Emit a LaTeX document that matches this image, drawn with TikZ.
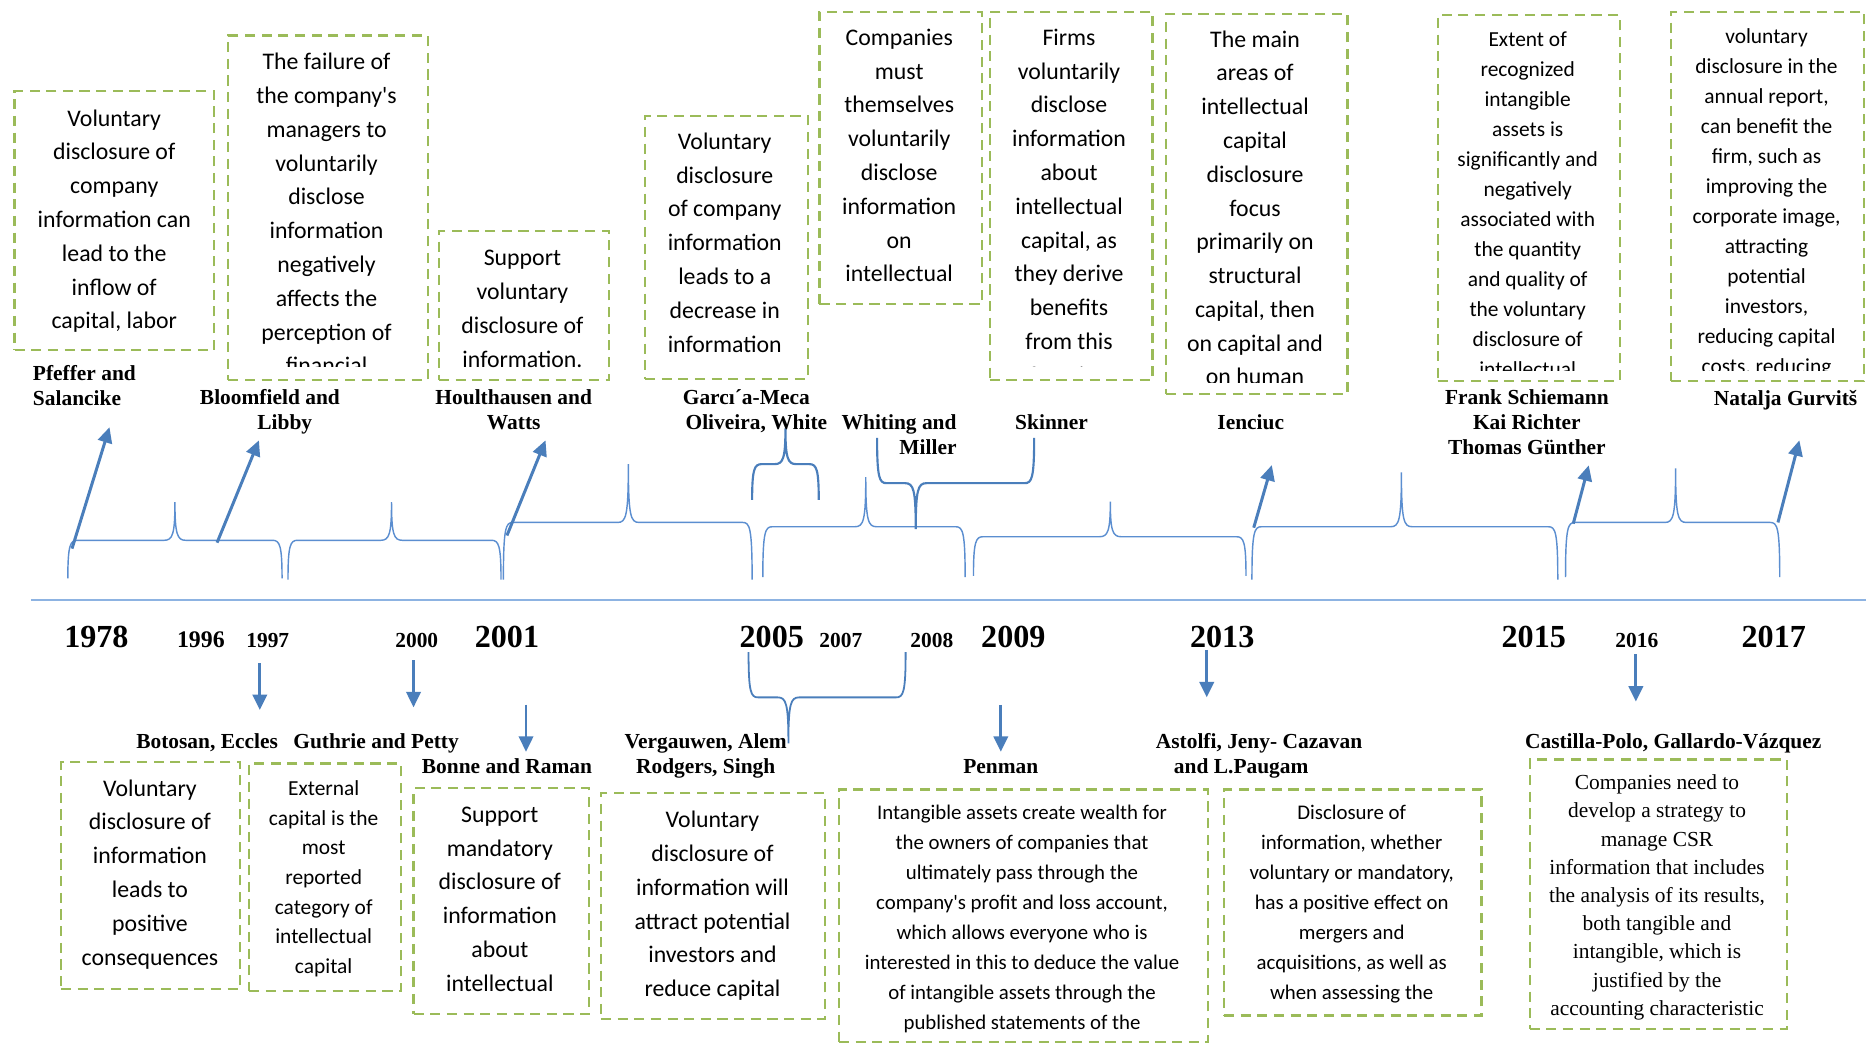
\documentclass[tikz,border=0pt]{standalone}
\usepackage{fontspec}
\setmainfont{Liberation Serif}
\newfontfamily\calfont{Carlito}
\usetikzlibrary{arrows.meta}

\definecolor{notegreen}{HTML}{9BBB59}
\definecolor{pointblue}{HTML}{4A7EBB}
\definecolor{braceblue}{HTML}{5B8ED0}
\definecolor{axisblue}{HTML}{8DB3E2}

% dashed note frame spanning (x1,y1)-(x2,y2)
\newcommand\notebox[5]{\node[notebox, minimum width={#4-#2}, minimum height={#5-#3}, anchor=north west] (#1) at (#2,#3) {};}
% curly brace: [style] x1, x2, cusp x, level y, end y, tip y, sense (1: ends below)
\newcommand\tlbrace[8][]{%
  \draw[tlbr,#1] (#2,#6) .. controls (#2,{#5+4*#8}) and ({#2+2},#5) .. ({#2+8},#5)
    -- ({#4-9},#5) .. controls ({#4-2},#5) and (#4,{#5-5*#8}) .. (#4,#7)
    .. controls (#4,{#5-5*#8}) and ({#4+2},#5) .. ({#4+9},#5)
    -- ({#3-8},#5) .. controls ({#3-2},#5) and (#3,{#5+4*#8}) .. (#3,#6);}

\begin{document}
\begin{tikzpicture}[x=1pt,y=-1pt,
  notebox/.style={draw=notegreen, line width=1.8pt, dash pattern=on 8.5pt off 5.5pt, inner sep=0pt},
  toptext/.style={font=\calfont\fontsize{20}{28.4}\selectfont, align=center, anchor=base, inner sep=0pt},
  smalltext/.style={font=\calfont\fontsize{18}{25.2}\selectfont, align=center, anchor=base, inner sep=0pt},
  guthtext/.style={font=\calfont\fontsize{18}{24.9}\selectfont, align=center, anchor=base, inner sep=0pt},
  widetext/.style={font=\calfont\fontsize{17.5}{25.1}\selectfont, align=center, anchor=base, inner sep=0pt},
  serifnote/.style={font=\fontsize{18}{23.7}\selectfont, align=center, anchor=base, inner sep=0pt},
  author/.style={font=\bfseries\fontsize{18}{21}\selectfont, align=center, anchor=base, inner sep=0pt},
  bigyear/.style={font=\bfseries\fontsize{27}{27}\selectfont, inner sep=0pt},
  smallyear/.style={font=\bfseries\fontsize{18}{18}\selectfont, inner sep=0pt},
  tlbr/.style={draw=braceblue, line width=1.2pt},
  groupbr/.style={draw=pointblue, line width=1.8pt},
  pointer/.style={draw=pointblue, line width=2.5pt, -{Triangle[width=12pt,length=13pt]}}
]
\useasboundingbox (0,0) rectangle (1568,876);
\fill[white] (0,0) rectangle (1568,876);

% ---------- time axis ----------
\coordinate (axisL) at (26,504);
\coordinate (axisR) at (1568,504);
\draw[axisblue, line width=2pt] (axisL) -- (axisR);

% ---------- years ----------
\node[bigyear]   (y1978) at (81,535.6) {1978};
\node[smallyear, font=\bfseries\fontsize{20}{20}\selectfont] (y1996) at (168.8,537.8) {1996};
\node[smallyear] (y1997) at (225,538.4) {1997};
\node[smallyear] (y2000) at (350.2,538.4) {2000};
\node[bigyear]   (y2001) at (426,535.6) {2001};
\node[bigyear]   (y2005) at (648.5,535.6) {2005};
\node[smallyear] (y2007) at (706.6,538.4) {2007};
\node[smallyear] (y2008) at (783,538.4) {2008};
\node[bigyear]   (y2009) at (851.5,535.6) {2009};
\node[bigyear]   (y2013) at (1027,535.6) {2013};
\node[bigyear]   (y2015) at (1288.8,535.6) {2015};
\node[smallyear] (y2016) at (1375.4,538.4) {2016};
\node[bigyear]   (y2017) at (1490.5,535.6) {2017};

% ---------- braces above the axis ----------
\tlbrace{57}{237}{147}{454}{486}{422}{1}
\tlbrace{242}{421}{329}{454}{487}{422}{1}
\tlbrace{423}{632}{528}{439}{487}{390}{1}
\tlbrace{641}{811}{727.5}{442.6}{485}{401}{1}
\tlbrace{818}{1047}{933}{451}{484}{421.6}{1}
\tlbrace{1052}{1309}{1177.6}{442.6}{487}{397}{1}
\tlbrace{1315.5}{1495.5}{1408}{439}{485}{393.5}{1}
% grouping braces
\tlbrace[groupbr]{632}{688}{660}{390}{420}{360}{1}
\tlbrace[groupbr]{737}{869}{769.5}{406}{368}{444.6}{-1}
\tlbrace[groupbr, line width=1.5pt]{629}{761}{662.5}{586}{548}{624.6}{-1}

% ---------- pointers above ----------
\coordinate (p1s) at (60.5,461);   \coordinate (p1e) at (92,359);
\coordinate (p2s) at (182.4,456);  \coordinate (p2e) at (217.6,370);
\coordinate (p3s) at (426,450);    \coordinate (p3e) at (458.4,370);
\coordinate (p4s) at (1053.5,443.4); \coordinate (p4e) at (1068.7,390.8);
\coordinate (p5s) at (1322,440);   \coordinate (p5e) at (1335,391);
\coordinate (p6s) at (1494,439);   \coordinate (p6e) at (1512,370);
\draw[pointer] (p1s) -- (p1e);
\draw[pointer] (p2s) -- (p2e);
\draw[pointer] (p3s) -- (p3e);
\draw[pointer] (p4s) -- (p4e);
\draw[pointer] (p5s) -- (p5e);
\draw[pointer] (p6s) -- (p6e);

% ---------- pointers below ----------
\coordinate (q1s) at (218.3,557.4); \coordinate (q1e) at (218.3,596.6);
\coordinate (q2s) at (347.5,554.6); \coordinate (q2e) at (347.5,594.4);
\coordinate (q3s) at (442,592);     \coordinate (q3e) at (442,631.7);
\coordinate (q4s) at (841,592.4);   \coordinate (q4e) at (841,631.7);
\coordinate (q5s) at (1014,546);    \coordinate (q5e) at (1014,586);
\coordinate (q6s) at (1374.6,549.6);\coordinate (q6e) at (1374.6,589.6);
\draw[pointer] (q1s) -- (q1e);
\draw[pointer] (q2s) -- (q2e);
\draw[pointer] (q3s) -- (q3e);
\draw[pointer] (q4s) -- (q4e);
\draw[pointer] (q5s) -- (q5e);
\draw[pointer] (q6s) -- (q6e);

% ---------- authors above (anchored at the last line's baseline) ----------
\node[author, align=left, anchor=base west] (aPfeffer) at (27.5,340.5) {Pfeffer and\\Salancike};
\node[author] (aBloom) at (226.8,361.2) {Bloomfield and\\\hspace*{25pt}Libby};
\node[author] (aHoult) at (431.7,361.2) {Houlthausen and\\Watts};
\node[author] (aGarcia) at (635.6,361.2) {Garcı´a-Meca\hspace*{17pt}\\Oliveira, White};
\node[author, align=right, anchor=base east] (aWhiting) at (804,381.5) {Whiting and\\Miller};
\node[author] (aSkinner) at (883.6,361) {Skinner};
\node[author] (aIenciuc) at (1051,361) {Ienciuc};
\node[author] (aFrank) at (1283,382) {Frank Schiemann\\Kai Richter\\Thomas Günther};
\node[author] (aGurvits) at (1500.4,340.7) {Natalja Gurvitš};

% ---------- authors below ----------
\node[author] (aBotosan) at (174,629) {Botosan, Eccles};
\node[author] (aGuthrie) at (316,629) {Guthrie and Petty};
\node[author] (aBonne) at (426,650) {Bonne and Raman};
\node[author] (aVerg) at (593,650) {Vergauwen, Alem\\Rodgers, Singh};
\node[author] (aPenman) at (841,650) {Penman};
\node[author] (aAstolfi) at (1058,650) {Astolfi, Jeny- Cazavan\\and L.Paugam\hspace*{30pt}};
\node[author] (aCastilla) at (1406,629) {Castilla-Polo, Gallardo-Vázquez};

% ---------- notes above ----------
\notebox{b1}{11.3}{75.6}{179}{293.3}
\node[toptext] (b1t) at (96,276.4) {Voluntary\\disclosure of\\company\\information can\\lead to the\\inflow of\\capital, labor};

\notebox{b2}{191}{28.9}{358.4}{318.5}
\begin{scope}
  \clip (191,28.9) rectangle (358.4,308);
  \node[toptext] (b2t) at (274.4,314.1) {The failure of\\the company's\\managers to\\voluntarily\\disclose\\information\\negatively\\affects the\\perception of\\financial};
\end{scope}

\notebox{b3}{368}{193.3}{511}{318.5}
\node[toptext] (b3t) at (439,308.7) {Support\\voluntary\\disclosure of\\information.};

\notebox{b4}{541}{96.6}{678}{317.4}
\node[toptext] (b4t) at (609,295.9) {Voluntary\\disclosure\\of company\\information\\leads to a\\decrease in\\information};

\notebox{b5}{687.7}{9}{824}{254.9}
\node[toptext] (b5t) at (755.6,236.8) {Companies\\must\\themselves\\voluntarily\\disclose\\information\\on\\intellectual};

\notebox{b6}{830.8}{9}{967.5}{318.5}
\begin{scope}
  \clip (830.8,9) rectangle (967.5,308);
  \node[toptext] (b6t) at (898.3,322) {Firms\\voluntarily\\disclose\\information\\about\\intellectual\\capital, as\\they derive\\benefits\\from this\\function};
\end{scope}

\notebox{b7}{979}{11.2}{1131.4}{330}
\begin{scope}
  \clip (979,11.2) rectangle (1131.4,321);
  \node[toptext] (b7t) at (1054.6,323.5) {The main\\areas of\\intellectual\\capital\\disclosure\\focus\\primarily on\\structural\\capital, then\\on capital and\\on human};
\end{scope}

\notebox{b8}{1207.2}{11.8}{1360.3}{319.3}
\begin{scope}
  \clip (1207.2,11.8) rectangle (1360.3,311.5);
  \node[smalltext] (b8t) at (1283.7,316.2) {Extent of\\recognized\\intangible\\assets is\\significantly and\\negatively\\associated with\\the quantity\\and quality of\\the voluntary\\disclosure of\\intellectual};
\end{scope}

\notebox{b9}{1403.4}{9}{1565.7}{319.3}
\begin{scope}
  \clip (1403.4,9) rectangle (1565.7,311.5);
  \node[smalltext] (b9t) at (1484.4,313.5) {voluntary\\disclosure in the\\annual report,\\can benefit the\\firm, such as\\improving the\\corporate image,\\attracting\\potential\\investors,\\reducing capital\\costs, reducing};
\end{scope}

% ---------- notes below ----------
\notebox{c1}{50.4}{639.5}{201}{830.5}
\node[toptext] (c1t) at (126,811) {Voluntary\\disclosure of\\information\\leads to\\positive\\consequences};

\notebox{c2}{208.5}{640.6}{336}{832}
\node[guthtext] (c2t) at (272,817.9) {External\\capital is the\\most\\reported\\category of\\intellectual\\capital};

\notebox{c3}{346.6}{661.6}{494.3}{851.5}
\node[toptext] (c3t) at (420,833) {Support\\mandatory\\disclosure of\\information\\about\\intellectual};

\notebox{c4}{504}{665.8}{692}{855}
\node[toptext] (c4t) at (598.7,837.5) {Voluntary\\disclosure of\\information will\\attract potential\\investors and\\reduce capital};

\notebox{c5}{704}{662.5}{1014}{875}
\node[widetext] (c5t) at (858.8,864.7) {Intangible assets create wealth for\\the owners of companies that\\ultimately pass through the\\company's profit and loss account,\\which allows everyone who is\\interested in this to deduce the value\\of intangible assets through the\\published statements of the};

\notebox{c6}{1027.6}{662.5}{1244}{852.4}
\node[widetext] (c6t) at (1135.8,839.6) {Disclosure of\\information, whether\\voluntary or mandatory,\\has a positive effect on\\mergers and\\acquisitions, as well as\\when assessing the};

\notebox{c7}{1284.4}{637.3}{1500.7}{863.6}
\node[serifnote] (c7t) at (1392.4,853.1) {Companies need to\\develop a strategy to\\manage CSR\\information that includes\\the analysis of its results,\\both tangible and\\intangible, which is\\justified by the\\accounting characteristic};

\end{tikzpicture}
\end{document}
